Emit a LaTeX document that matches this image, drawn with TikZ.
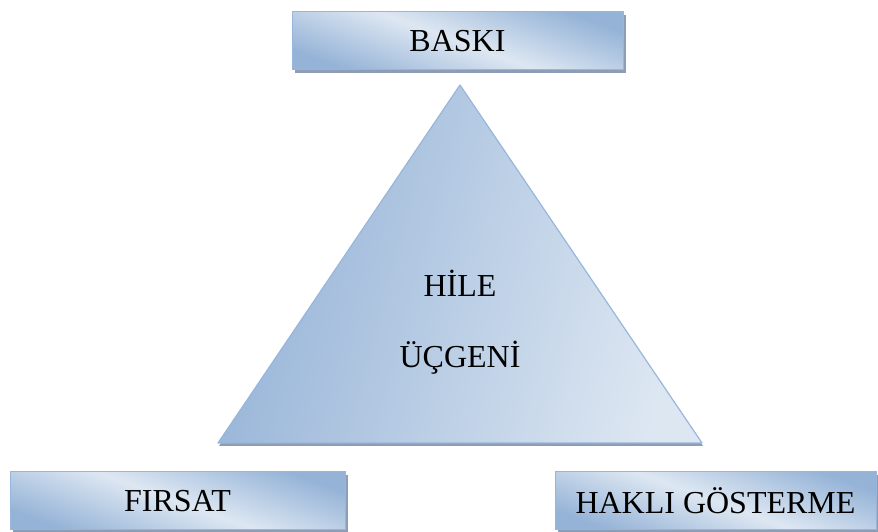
\documentclass[tikz,border=0pt]{standalone}
\usepackage{fontspec}
\setmainfont{Liberation Serif}
\usetikzlibrary{
  positioning, % for relative positioning of the labels
  shadows, % for the drop shadows under boxes and triangle
}
\definecolor{boxdark}{HTML}{95B3D7}
\definecolor{boxlight}{HTML}{DDE7F2}
\definecolor{boxline}{HTML}{98B6DB}
\definecolor{shadowgray}{HTML}{8C9DB5}
\tikzset{
  factor/.style={ % style for the three corner boxes
    rectangle,draw=boxline,line width=1pt, % thin blue outline
    left color=boxdark,right color=boxdark,middle color=boxlight, % glossy fill
    shading angle=-20,
    minimum height=58pt,
    inner sep=0pt,
    drop shadow={shadow xshift=3pt,shadow yshift=-3pt,fill=shadowgray,opacity=1},
    font=\fontsize{32}{38}\selectfont,
  },
  tri/.style={ % style for the central triangle
    draw=boxline,line width=1.2pt,line join=round,
    left color=boxdark,right color=boxlight,shading angle=75,
    drop shadow={shadow xshift=1pt,shadow yshift=-3pt,fill=shadowgray,opacity=1},
  },
  label/.style={ % style for the text inside the triangle
    align=center,
    font=\fontsize{32}{38}\selectfont,
  },
}
\begin{document}
\begin{tikzpicture}[x=1pt,y=1pt]
	\useasboundingbox (0,0) rectangle (878,532);
	
	\coordinate (top) at (460,447);
	\coordinate (bl) at (218,89);
	\coordinate (br) at (702,89);
	
	\path[tri] (top) -- (br) -- (bl) -- cycle;
	
	\node (baski) [factor,minimum width=331pt] at (457.5,491) {BASKI};
	
	\node (firsat) [factor,minimum width=335pt] at (177.5,31) {FIRSAT};
	
	\node (hakli) [factor,minimum width=321pt] at (715.5,31) {HAKLI GÖSTERME};
	
	\node (hile) [label] at (460,249) {HİLE};
	
	\node (ucgen) [label,below=38pt of hile.south,anchor=north] {ÜÇGENİ};
\end{tikzpicture}
\end{document}
